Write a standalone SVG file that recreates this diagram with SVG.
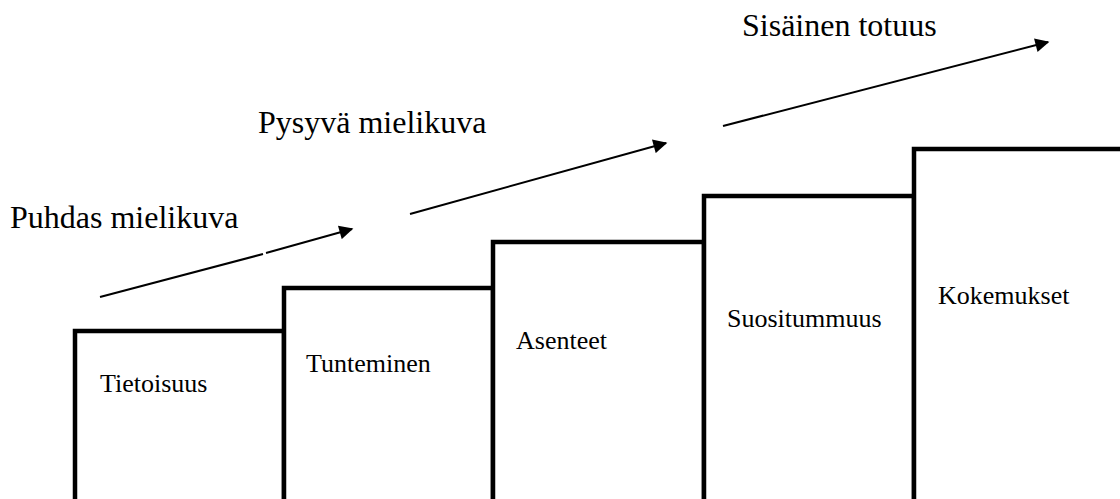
<svg xmlns="http://www.w3.org/2000/svg" width="1120" height="499" viewBox="0 0 1120 499">
  <style>
    .step { fill: #ffffff; stroke: #000000; stroke-width: 4.5; stroke-linejoin: miter; }
    .stage { font-family: "Liberation Serif", "DejaVu Serif", serif; font-size: 26px; fill: #000000; }
    .phase { font-family: "Liberation Serif", "DejaVu Serif", serif; font-size: 32px; fill: #000000; }
    .arrow { stroke: #000000; stroke-width: 2; fill: none; }
  </style>
  <defs>
    <marker id="headBig" viewBox="0 0 10 10" refX="9" refY="5" markerWidth="18" markerHeight="14" markerUnits="userSpaceOnUse" orient="auto">
      <path d="M0,0 L10,5 L0,10 Z" fill="#000000"/>
    </marker>
  </defs>

  <rect width="1120" height="499" fill="#ffffff"/>

  <!-- staircase of stages -->
  <g id="step-tietoisuus">
    <path class="step" d="M75,505 V331 H284 V505"/>
    <text class="stage" x="100" y="392">Tietoisuus</text>
  </g>
  <g id="step-tunteminen">
    <path class="step" d="M284,505 V288 H493 V505"/>
    <text class="stage" x="306" y="372">Tunteminen</text>
  </g>
  <g id="step-asenteet">
    <path class="step" d="M493,505 V242 H704 V505"/>
    <text class="stage" x="516" y="349">Asenteet</text>
  </g>
  <g id="step-suositummuus">
    <path class="step" d="M704,505 V196 H914 V505"/>
    <text class="stage" x="727" y="327">Suositummuus</text>
  </g>
  <g id="step-kokemukset">
    <path class="step" d="M914,505 V149 H1125"/>
    <text class="stage" x="938" y="304">Kokemukset</text>
  </g>

  <!-- phase labels -->
  <g id="phase-puhdas">
    <text class="phase" x="10" y="228">Puhdas mielikuva</text>
  </g>
  <g id="phase-pysyva">
    <text class="phase" x="258" y="133">Pysyvä mielikuva</text>
  </g>
  <g id="phase-sisainen">
    <text class="phase" x="742" y="36">Sisäinen totuus</text>
  </g>

  <!-- rising arrows -->
  <g id="connectors">
    <line class="arrow" x1="100" y1="297" x2="263" y2="254"/>
    <line class="arrow" x1="266" y1="253" x2="352" y2="229" marker-end="url(#headBig)"/>
    <line class="arrow" x1="410" y1="214" x2="666" y2="143" marker-end="url(#headBig)"/>
    <line class="arrow" x1="723" y1="126" x2="1048" y2="42" marker-end="url(#headBig)"/>
  </g>
</svg>
